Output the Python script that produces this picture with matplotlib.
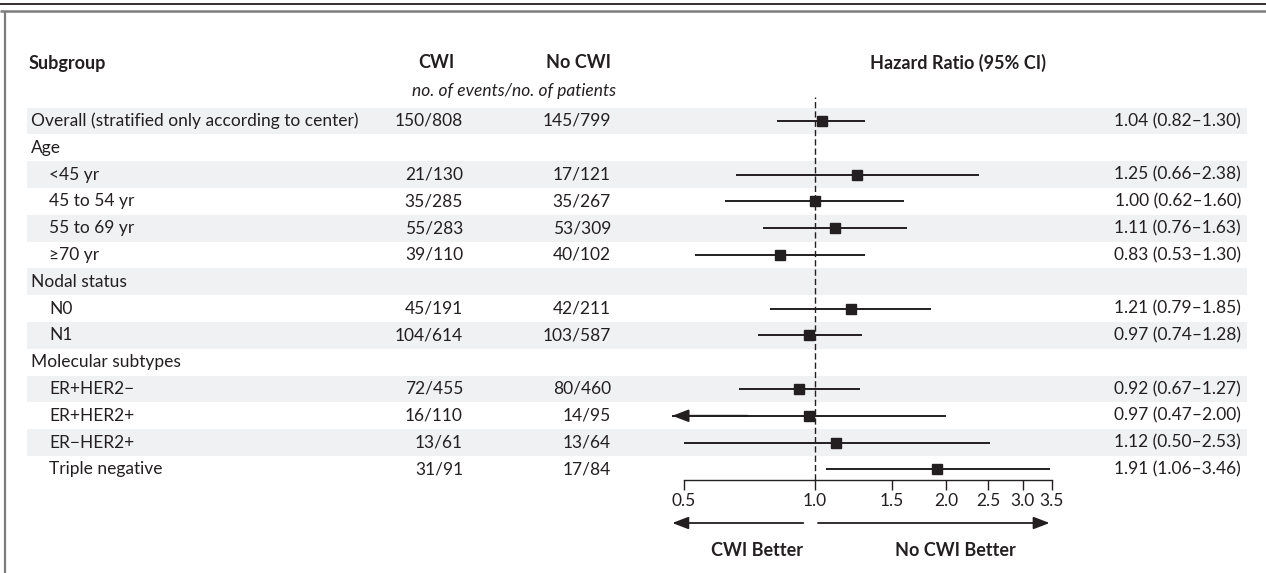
import numpy as np
import matplotlib
matplotlib.use("Agg")
import matplotlib.pyplot as plt
from matplotlib.transforms import blended_transform_factory

plt.rcParams['font.family'] = ['Lato', 'DejaVu Sans']

# data
labels = ["Overall (stratified only according to center)", "Age", "<45 yr", "45 to 54 yr",
          "55 to 69 yr", "\u226570 yr", "Nodal status", "N0", "N1", "Molecular subtypes",
          "ER+HER2\u2212", "ER+HER2+", "ER\u2212HER2+", "Triple negative"]
indent = [0, 0, 1, 1, 1, 1, 0, 1, 1, 0, 1, 1, 1, 1]
cwi = ["150/808", "", "21/130", "35/285", "55/283", "39/110", "", "45/191", "104/614",
       "", "72/455", "16/110", "13/61", "31/91"]
no_cwi = ["145/799", "", "17/121", "35/267", "53/309", "40/102", "", "42/211", "103/587",
          "", "80/460", "14/95", "13/64", "17/84"]
hr = [1.04, np.nan, 1.25, 1.00, 1.11, 0.83, np.nan, 1.21, 0.97, np.nan, 0.92, 0.97, 1.12, 1.91]
ci_lo = [0.82, np.nan, 0.66, 0.62, 0.76, 0.53, np.nan, 0.79, 0.74, np.nan, 0.67, 0.47, 0.50, 1.06]
ci_hi = [1.30, np.nan, 2.38, 1.60, 1.63, 1.30, np.nan, 1.85, 1.28, np.nan, 1.27, 2.00, 2.53, 3.46]
ticks = [0.5, 1.0, 1.5, 2.0, 2.5, 3.0, 3.5]
tick_labels = ["0.5", "1.0", "1.5", "2.0", "2.5", "3.0", "3.5"]

ink = '#231f20'
band = '#f0f1f3'
fs = 12.5     # body text
fsb = 13      # bold headers

W, H = 1266, 573
fig = plt.figure(figsize=(W / 100, H / 100), dpi=100)

# background axes in pixel units for the table layout
ax = fig.add_axes([0, 0, 1, 1])
ax.set_xlim(0, W)
ax.set_ylim(H, 0)
ax.axis('off')

row0, row_h = 121, 26.8
rows = np.arange(len(labels))
row_y = row0 + rows * row_h

# frame lines
ax.plot([0, W], [3.5, 3.5], color=ink, lw=1.3, solid_capstyle='butt')
ax.plot([0, W], [10.5, 10.5], color='#7d7d7d', lw=1.8, solid_capstyle='butt')
ax.plot([4.5, 4.5], [10.5, H], color='#7d7d7d', lw=1.6, solid_capstyle='butt')

# alternating bands
shade = rows % 2 == 0
ax.barh(row_y[shade], 1220, left=27, height=row_h, color=band, zorder=0)

# headers
ax.text(29, 63, "Subgroup", fontsize=fsb, fontweight='bold', color=ink, va='center', ha='left')
ax.text(436, 63, "CWI", fontsize=fsb, fontweight='bold', color=ink, va='center', ha='center')
ax.text(579, 63, "No CWI", fontsize=fsb, fontweight='bold', color=ink, va='center', ha='center')
ax.text(958, 63, "Hazard Ratio (95% CI)", fontsize=fsb, fontweight='bold', color=ink,
        va='center', ha='center')
ax.text(514, 91, "no. of events/no. of patients", fontsize=fs, style='italic', color=ink,
        va='center', ha='center')

for i, lab in enumerate(labels):
    y = row_y[i]
    ax.text(31 + 18 * indent[i], y, lab, fontsize=fs, color=ink, va='center', ha='left')
    ax.text(463, y, cwi[i], fontsize=fs, color=ink, va='center', ha='right')
    ax.text(611, y, no_cwi[i], fontsize=fs, color=ink, va='center', ha='right')
    if not np.isnan(hr[i]):
        ax.text(1241, y, f"{hr[i]:.2f} ({ci_lo[i]:.2f}\u2013{ci_hi[i]:.2f})",
                fontsize=fs, color=ink, va='center', ha='right')

# forest axes on a log scale: 1.0 sits at x=815 px, 189 px per ln unit
x_one, px_ln = 815, 189
xlim = (0.45, 3.7)
x0 = x_one + px_ln * np.log(xlim[0])
x1 = x_one + px_ln * np.log(xlim[1])
top, bottom = 97, 480
axf = fig.add_axes([x0 / W, 1 - bottom / H, (x1 - x0) / W, (bottom - top) / H])
axf.set_facecolor('none')
axf.set_xscale('log')
axf.set_xlim(*xlim)
axf.set_ylim((bottom - row0) / row_h, (top - row0) / row_h)
for s in ['top', 'left', 'right']:
    axf.spines[s].set_visible(False)
axf.spines['bottom'].set_bounds(ticks[0], ticks[-1])
axf.spines['bottom'].set_color(ink)
axf.spines['bottom'].set_linewidth(1.0)
axf.set_xticks(ticks)
axf.set_xticklabels(tick_labels)
axf.xaxis.set_minor_locator(matplotlib.ticker.NullLocator())
axf.tick_params(axis='x', direction='out', length=7, width=1.0, color=ink,
                labelsize=fs, labelcolor=ink, pad=2)
axf.set_yticks([])

axf.axvline(1.0, color=ink, lw=1.0, dashes=(4.5, 2.2), zorder=1)

hr_a = np.array(hr)
lo_a = np.array(ci_lo)
hi_a = np.array(ci_hi)
ok = ~np.isnan(hr_a)
axf.hlines(rows[ok], lo_a[ok], hi_a[ok], color=ink, lw=1.4, zorder=2)
axf.plot(hr_a[ok], rows[ok], 's', color=ink, markersize=7, zorder=3)

astyle = '-|>,head_length=0.65,head_width=0.25'
for i in rows[ok]:
    # interval runs past the left end of the axis
    if lo_a[i] < ticks[0]:
        axf.annotate('', xy=(lo_a[i], i), xytext=(0.7, i),
                     arrowprops=dict(arrowstyle=astyle, color=ink, lw=1.4,
                                     shrinkA=0, shrinkB=0, mutation_scale=15))

# direction arrows under the axis
bt = blended_transform_factory(axf.transData, fig.transFigure)
y_arr = 1 - 523 / H
axf.annotate('', xy=(0.47, y_arr), xytext=(0.94, y_arr), xycoords=bt, textcoords=bt,
             arrowprops=dict(arrowstyle=astyle, color=ink, lw=1.3, shrinkA=0, shrinkB=0,
                             mutation_scale=15))
axf.annotate('', xy=(3.46, y_arr), xytext=(1.016, y_arr), xycoords=bt, textcoords=bt,
             arrowprops=dict(arrowstyle=astyle, color=ink, lw=1.3, shrinkA=0, shrinkB=0,
                             mutation_scale=15))
y_lab = 1 - 551 / H
axf.text(0.735, y_lab, "CWI Better", transform=bt, fontsize=fsb, fontweight='bold',
         color=ink, ha='center', va='center')
axf.text(2.1, y_lab, "No CWI Better", transform=bt, fontsize=fsb, fontweight='bold',
         color=ink, ha='center', va='center')

fig.savefig('out.png', dpi=100)
